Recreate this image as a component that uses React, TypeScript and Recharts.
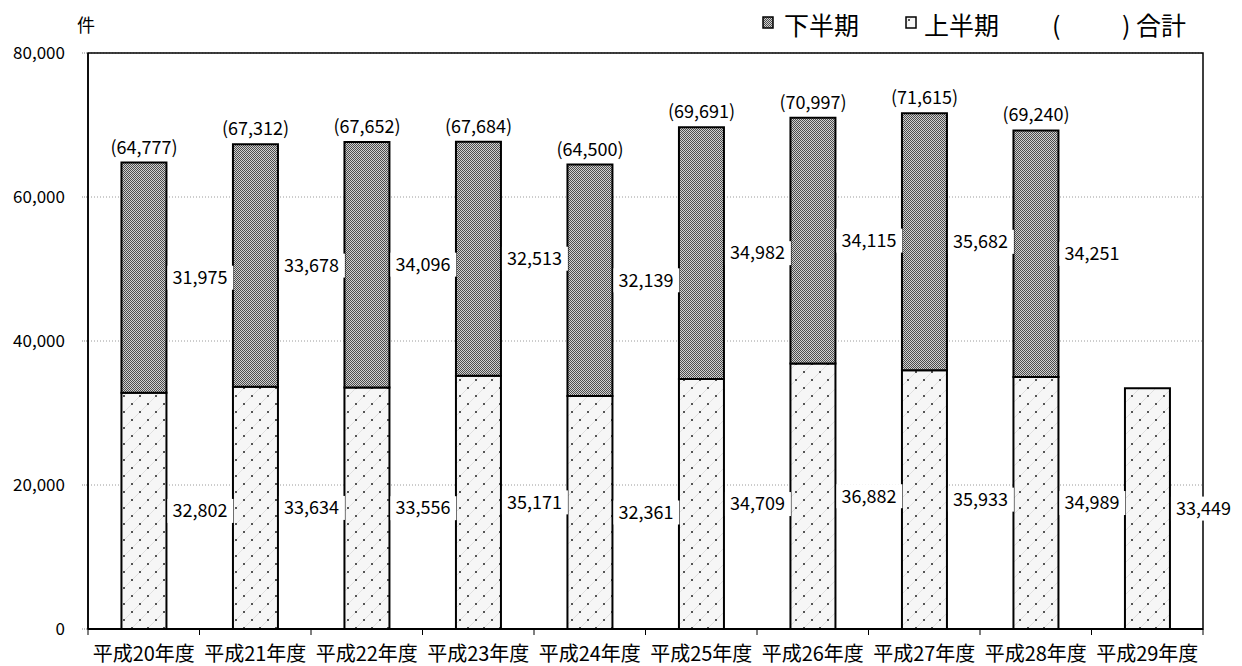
import { Bar, BarChart, CartesianGrid, LabelList, ReferenceArea, XAxis, YAxis } from "recharts";

const categories = [
  "平成20年度",
  "平成21年度",
  "平成22年度",
  "平成23年度",
  "平成24年度",
  "平成25年度",
  "平成26年度",
  "平成27年度",
  "平成28年度",
  "平成29年度",
];
// 上半期
const firstHalf = [32802, 33634, 33556, 35171, 32361, 34709, 36882, 35933, 34989, 33449];
// 下半期 (H29 not reported yet)
const secondHalf = [31975, 33678, 34096, 32513, 32139, 34982, 34115, 35682, 34251, null];
const yTicks = [0, 20000, 40000, 60000, 80000];

const FONT = '"Noto Sans CJK JP", "Noto Sans", sans-serif';
const W = 1242;
const H = 666;
const PLOT_LEFT = 88;
const PLOT_RIGHT = 1203;
const BAND = (PLOT_RIGHT - PLOT_LEFT) / categories.length;

const numFmt = new Intl.NumberFormat("en-US");

const rows = categories.map((name, i) => ({
  name,
  first: firstHalf[i],
  second: secondHalf[i],
  total: secondHalf[i] == null ? null : firstHalf[i] + (secondHalf[i] as number),
}));

let ctx: CanvasRenderingContext2D | null = null;
function textWidth(s: string, size: number): number {
  if (!ctx) ctx = document.createElement("canvas").getContext("2d");
  if (!ctx) return s.length * size * 0.55;
  ctx.font = `${size}px ${FONT}`;
  return ctx.measureText(s).width;
}

function Patterns() {
  return (
    <>
      <pattern id="darkPat" width="2" height="2" patternUnits="userSpaceOnUse">
        <rect width="2" height="2" fill="#d0d0d0" />
        <rect width="1" height="1" fill="#4c4c4c" />
        <rect x="1" y="1" width="1" height="1" fill="#4c4c4c" />
      </pattern>
      <pattern id="lightPat" width="16" height="16" patternUnits="userSpaceOnUse">
        <rect width="16" height="16" fill="#f6f6f6" />
        <path d="M0 8 L8 0 M8 16 L16 8" stroke="#e0e0e0" strokeWidth="1" />
        <circle cx="4" cy="4" r="1" fill="#222" />
        <circle cx="12" cy="12" r="1" fill="#222" />
      </pattern>
    </>
  );
}

// value label to the right of a segment, on a white box
function SideLabel(props: any) {
  const vb = props.viewBox ?? {};
  const x = Number(props.x ?? vb.x);
  const y = Number(props.y ?? vb.y);
  const w = Number(props.width ?? vb.width);
  const h = Number(props.height ?? vb.height);
  if (props.value == null || Number.isNaN(x)) return null;
  const txt = numFmt.format(Number(props.value));
  const tw = textWidth(txt, 18);
  const cy = y + h / 2;
  const left = x + w + 1;
  return (
    <g>
      <rect x={left} y={cy - 12} width={tw + 11} height={24} fill="#fff" />
      <text x={left + 5} y={cy} dy="0.35em" fontSize={18} fontFamily={FONT} fill="#000">
        {txt}
      </text>
    </g>
  );
}

function CategoryTick(props: any) {
  const { x, y, payload, index } = props;
  const last = index === categories.length - 1;
  return (
    <g>
      <line x1={x - BAND / 2} x2={x - BAND / 2} y1={y} y2={y + 6} stroke="#000" />
      {last && <line x1={x + BAND / 2} x2={x + BAND / 2} y1={y} y2={y + 6} stroke="#000" />}
      <text x={x} y={y + 32} textAnchor="middle" fontSize={20} fontFamily={FONT} fill="#000">
        {payload.value}
      </text>
    </g>
  );
}

function LegendBox({ pat }: { pat: string }) {
  return (
    <svg width={12} height={13} style={{ position: "absolute", left: 0, top: 0 }}>
      <defs>
        <Patterns />
      </defs>
      <rect x={1} y={1} width={10} height={11} fill={`url(#${pat})`} stroke="#000" strokeWidth={1.5} />
    </svg>
  );
}

export default function App() {
  const span = (left: number, text: string, size = 25) => (
    <span
      style={{
        position: "absolute",
        left,
        top: 11,
        fontSize: size,
        lineHeight: "26px",
        fontFamily: FONT,
        color: "#000",
        whiteSpace: "nowrap",
      }}
    >
      {text}
    </span>
  );

  return (
    <div style={{ position: "absolute", left: 0, top: 0, width: W, height: H, background: "#fff" }}>
      <BarChart
        width={W}
        height={H}
        data={rows}
        margin={{ top: 53, right: W - PLOT_RIGHT, bottom: 0, left: PLOT_LEFT - 70 }}
        barCategoryGap="30%"
      >
        <defs>
          <Patterns />
        </defs>
        <CartesianGrid vertical={false} stroke="#9a9a9a" strokeDasharray="1 2" />
        <ReferenceArea
          x1={categories[0]}
          x2={categories[categories.length - 1]}
          y1={0}
          y2={80000}
          fill="none"
          fillOpacity={0}
          stroke="#000"
          strokeWidth={1.5}
        />
        <XAxis
          dataKey="name"
          height={37}
          tickSize={0}
          tickMargin={0}
          tickLine={false}
          axisLine={{ stroke: "#000", strokeWidth: 2 }}
          tick={<CategoryTick />}
          interval={0}
        />
        <YAxis
          width={70}
          domain={[0, 80000]}
          ticks={yTicks}
          interval={0}
          tickSize={6}
          tickMargin={17}
          tickLine={{ stroke: "#888", strokeDasharray: "1 1" }}
          axisLine={{ stroke: "#000", strokeWidth: 1.5 }}
          tickFormatter={(v: number) => numFmt.format(v)}
          tick={{ fontSize: 17, fontFamily: FONT, fill: "#000" }}
        />
        <Bar
          dataKey="first"
          stackId="h"
          fill="url(#lightPat)"
          stroke="#000"
          strokeWidth={2}
          isAnimationActive={false}
        >
          <LabelList dataKey="first" content={<SideLabel />} />
        </Bar>
        <Bar
          dataKey="second"
          stackId="h"
          fill="url(#darkPat)"
          stroke="#000"
          strokeWidth={2}
          isAnimationActive={false}
        >
          <LabelList dataKey="second" content={<SideLabel />} />
          <LabelList
            dataKey="total"
            position="top"
            offset={9}
            fontSize={18}
            fontFamily={FONT}
            fill="#000"
            formatter={(v: any) => (v == null ? "" : `(${numFmt.format(Number(v))})`)}
          />
        </Bar>
      </BarChart>

      <span
        style={{
          position: "absolute",
          left: 77,
          top: 14,
          fontSize: 18,
          lineHeight: "20px",
          fontFamily: FONT,
          color: "#000",
        }}
      >
        件
      </span>
      <div style={{ position: "absolute", left: 0, top: 0, width: W, height: 45 }}>
        <div style={{ position: "absolute", left: 762, top: 16, width: 12, height: 13 }}>
          <LegendBox pat="darkPat" />
        </div>
        {span(784, "下半期")}
        <div style={{ position: "absolute", left: 905, top: 16, width: 12, height: 13 }}>
          <LegendBox pat="lightPat" />
        </div>
        {span(924, "上半期")}
        {span(1052, "(")}
        {span(1122, ")")}
        {span(1136, "合計")}
      </div>
    </div>
  );
}
